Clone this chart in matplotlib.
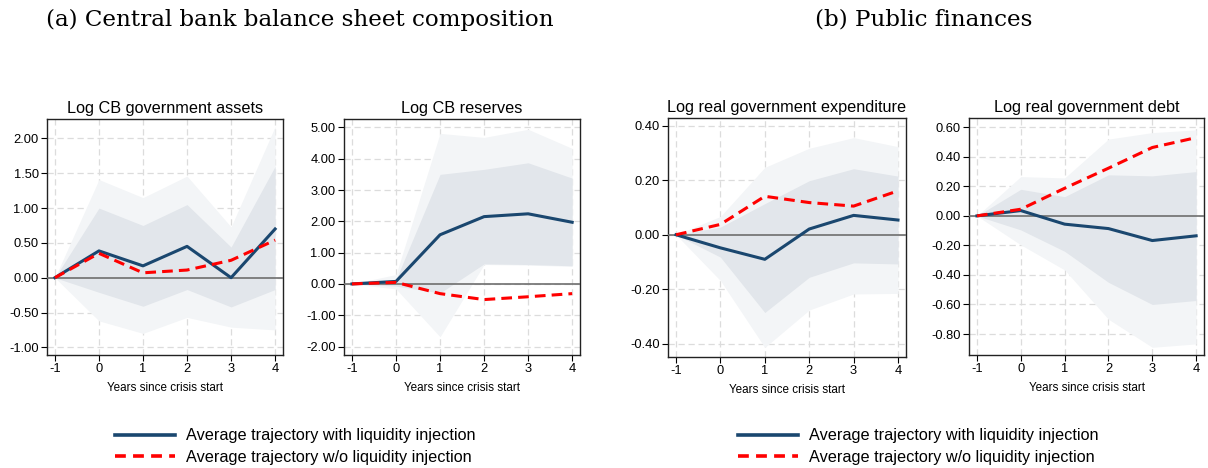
import matplotlib
matplotlib.use("Agg")
import matplotlib.pyplot as plt
from matplotlib.lines import Line2D

plt.rcParams['font.family'] = ['Liberation Sans', 'DejaVu Sans']
plt.rcParams['axes.unicode_minus'] = False

# horizon (years since crisis start)
years = [-1, 0, 1, 2, 3, 4]

# Log CB government assets
assets_with = [0, 0.385, 0.17, 0.45, 0.0, 0.70]
assets_wo = [0, 0.35, 0.07, 0.11, 0.25, 0.54]
assets_in_hi = [0, 1.00, 0.75, 1.05, 0.44, 1.60]
assets_in_lo = [0, -0.21, -0.41, -0.17, -0.42, -0.17]
assets_out_hi = [0, 1.41, 1.15, 1.46, 0.73, 2.17]
assets_out_lo = [0, -0.62, -0.80, -0.57, -0.71, -0.75]

# Log CB reserves
res_with = [0, 0.08, 1.57, 2.15, 2.24, 1.97]
res_wo = [0, 0.05, -0.31, -0.50, -0.41, -0.31]
res_in_hi = [0, 0.14, 3.50, 3.66, 3.87, 3.38]
res_in_lo = [0, -0.07, -0.29, 0.64, 0.62, 0.58]
res_out_hi = [0, 0.30, 4.81, 4.68, 4.94, 4.33]
res_out_lo = [0, -0.16, -1.69, 0.62, 0.60, 0.56]

# Log real government expenditure
exp_with = [0, -0.048, -0.09, 0.021, 0.071, 0.054]
exp_wo = [0, 0.038, 0.141, 0.118, 0.105, 0.161]
exp_in_hi = [0, 0.028, 0.114, 0.198, 0.242, 0.215]
exp_in_lo = [0, -0.082, -0.285, -0.156, -0.103, -0.107]
exp_out_hi = [0, 0.067, 0.247, 0.317, 0.356, 0.323]
exp_out_lo = [0, -0.168, -0.413, -0.276, -0.217, -0.215]

# Log real government debt
debt_with = [0, 0.036, -0.056, -0.086, -0.167, -0.135]
debt_wo = [0, 0.045, 0.187, 0.323, 0.463, 0.53]
debt_in_hi = [0, 0.18, 0.13, 0.278, 0.271, 0.30]
debt_in_lo = [0, -0.095, -0.24, -0.45, -0.60, -0.573]
debt_out_hi = [0, 0.266, 0.257, 0.52, 0.564, 0.582]
debt_out_lo = [0, -0.196, -0.366, -0.70, -0.89, -0.867]

titles = ["Log CB government assets", "Log CB reserves",
          "Log real government expenditure", "Log real government debt"]
yticks = [[-1, -0.5, 0, 0.5, 1, 1.5, 2],
          [-2, -1, 0, 1, 2, 3, 4, 5],
          [-0.4, -0.2, 0, 0.2, 0.4],
          [-0.8, -0.6, -0.4, -0.2, 0, 0.2, 0.4, 0.6]]
ylims = [(-1.11, 2.28), (-2.27, 5.27), (-0.448, 0.428), (-0.942, 0.663)]

panels = [
    (assets_with, assets_wo, assets_in_hi, assets_in_lo, assets_out_hi, assets_out_lo),
    (res_with, res_wo, res_in_hi, res_in_lo, res_out_hi, res_out_lo),
    (exp_with, exp_wo, exp_in_hi, exp_in_lo, exp_out_hi, exp_out_lo),
    (debt_with, debt_wo, debt_in_hi, debt_in_lo, debt_out_hi, debt_out_lo),
]

positions = [[0.0389, 0.2415, 0.1954, 0.5043],
             [0.2848, 0.2415, 0.1954, 0.5043],
             [0.5530, 0.2372, 0.1970, 0.5107],
             [0.8022, 0.2415, 0.1945, 0.5064]]

blue = "#1a476f"
red = "#ff0000"

fig = plt.figure(figsize=(12.08, 4.68), dpi=100)

for i, (w, wo, ihi, ilo, ohi, olo) in enumerate(panels):
    ax = fig.add_axes(positions[i])
    ax.fill_between(years, olo, ohi, color="#f3f5f7", lw=0, zorder=1)
    ax.fill_between(years, ilo, ihi, color="#e2e6eb", lw=0, zorder=2)
    ax.axhline(0, color="#6e6e6e", lw=1.2, zorder=3)
    ax.plot(years, w, color=blue, lw=2.2, zorder=5)
    ax.plot(years, wo, color=red, lw=2.2, ls=(0, (3.5, 2)), zorder=6)
    ax.set_xlim(-1.18, 4.18)
    ax.set_ylim(*ylims[i])
    ax.set_xticks(years)
    ax.set_yticks(yticks[i])
    ax.set_yticklabels(["%.2f" % v for v in yticks[i]])
    ax.grid(True, color="#dcdcdc", ls=(0, (5, 3)), lw=0.9)
    ax.set_axisbelow(True)
    ax.tick_params(labelsize=9.3, length=4, width=0.8, direction="out", pad=2)
    for s in ax.spines.values():
        s.set_linewidth(1.0)
        s.set_color("#222222")
    ax.set_title(titles[i], fontsize=11.7, pad=4)
    ax.set_xlabel("Years since crisis start", fontsize=8.4, labelpad=5)

fig.text(0.248, 0.958, "(a) Central bank balance sheet composition",
         ha="center", va="center", fontsize=16.6, family="DejaVu Serif")
fig.text(0.765, 0.958, "(b) Public finances",
         ha="center", va="center", fontsize=16.6, family="DejaVu Serif")

handles = [Line2D([], [], color=blue, lw=2.6),
           Line2D([], [], color=red, lw=2.6, ls=(0, (3, 2)))]
labels = ["Average trajectory with liquidity injection",
          "Average trajectory w/o liquidity injection"]
for xloc in [0.0952, 0.611]:
    fig.legend(handles, labels, loc="center left", bbox_to_anchor=(xloc, 0.046),
               frameon=False, fontsize=11.7, handlelength=3.7,
               handletextpad=0.68, labelspacing=0.4, borderaxespad=0, borderpad=0)

fig.savefig("out.png", dpi=100)
